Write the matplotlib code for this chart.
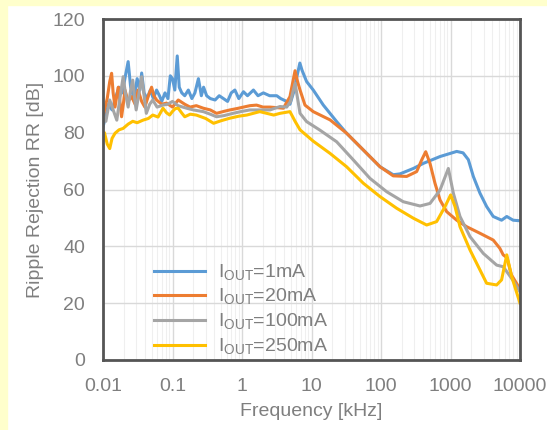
import numpy as np
import matplotlib.pyplot as plt
from matplotlib.patches import Rectangle
from matplotlib.ticker import NullFormatter, LogLocator

plt.rcParams['font.family'] = ['Liberation Sans', 'DejaVu Sans']
plt.rcParams['mathtext.fontset'] = 'custom'
plt.rcParams['mathtext.rm'] = 'Liberation Sans'

# ripple rejection vs frequency
f_1mA = [0.01, 0.011, 0.012, 0.0135, 0.015, 0.017, 0.019, 0.021, 0.023, 0.025,
         0.028, 0.031, 0.034, 0.036, 0.039, 0.043, 0.048, 0.053, 0.059, 0.065,
         0.07, 0.078, 0.086, 0.093, 0.1, 0.108, 0.117, 0.125, 0.136, 0.15,
         0.169, 0.19, 0.21, 0.236, 0.26, 0.28, 0.31, 0.35, 0.41, 0.47,
         0.54, 0.62, 0.7, 0.79, 0.9, 1.05, 1.2, 1.46, 1.7, 2.03,
         2.5, 3.16, 3.6, 4.4, 4.9, 5.5, 6.2, 6.8, 7.3, 8.5,
         10.6, 14.8, 23, 32, 55.7, 96.8, 150, 188, 292, 407,
         707, 1228, 1516, 1806, 2130, 2654, 3311, 4123, 5433, 6453,
         7950, 10000]
rr_1mA = [82, 86, 90, 88, 92, 96, 94, 100, 105, 96,
          92, 99, 95, 101, 94, 92, 95, 92, 95, 93,
          91, 94, 92, 100, 99, 95, 107, 96, 94, 93,
          95, 92, 94, 99, 93, 96, 93, 92, 91.5, 93,
          92, 91, 94, 95, 92, 94.4, 93, 95, 93, 94,
          93, 93, 92, 91, 90, 94, 100, 104.5, 102, 98,
          95, 89.7, 83.9, 79.8, 73.9, 68, 65.2, 65.5, 67.4, 69.2,
          71.6, 73.4, 72.9, 70.5, 64.6, 58.7, 54, 50.5, 49.2, 50.5,
          49.2, 49]

f_20mA = [0.01, 0.0105, 0.0115, 0.0125, 0.0133, 0.014, 0.0149, 0.0158, 0.0166, 0.0175,
          0.0185, 0.0196, 0.0207, 0.023, 0.0258, 0.029, 0.032, 0.036, 0.04, 0.045,
          0.05, 0.054, 0.059, 0.07, 0.082, 0.1, 0.121, 0.15, 0.179, 0.22,
          0.278, 0.35, 0.43, 0.55, 0.67, 0.85, 1.05, 1.3, 1.62, 2.0,
          2.53, 3.2, 3.94, 4.9, 5.4, 5.8, 6.3, 6.84, 8.06, 10.6,
          18.5, 32, 55.7, 96.8, 150, 234, 326, 385, 440, 507,
          598, 707, 881, 1228, 1710, 2654, 4123, 5130, 5730, 6500,
          7500, 10000]
rr_20mA = [85, 88, 92, 98, 100.9, 94, 89, 93, 96, 91,
           85.6, 90, 95, 91, 92.7, 90, 95, 91, 89, 93,
           96, 93, 91.5, 90, 90.4, 89, 91.5, 90, 89, 89.5,
           88.6, 88, 86.8, 87.5, 88, 88.5, 89, 89.5, 89.7, 89,
           89, 88.8, 88.6, 92.7, 98, 101.8, 98, 95, 89.7, 87.4,
           84.5, 79.8, 73.9, 68, 64.8, 64.6, 66.3, 70.4, 73.3, 69.2,
           62.2, 56.3, 52.2, 49.2, 46.9, 44.6, 42.2, 39.3, 37, 36,
           30, 25]

f_100mA = [0.01, 0.011, 0.0125, 0.014, 0.0158, 0.0175, 0.0195, 0.021, 0.023, 0.025,
           0.0268, 0.0285, 0.03, 0.033, 0.036, 0.039, 0.042, 0.047, 0.052, 0.06,
           0.073, 0.085, 0.1, 0.12, 0.16, 0.2, 0.278, 0.35, 0.43, 0.55,
           0.74, 1.0, 1.3, 1.8, 2.53, 3.52, 4.4, 5.0, 5.8, 6.84,
           8.5, 13.2, 23, 40, 69.5, 121, 209, 364, 507, 707,
           931, 1099, 1370, 1910, 2965, 4610, 5750, 7950, 10000]
rr_100mA = [86, 84, 91.5, 88, 84.4, 92, 99.7, 94, 89, 95,
            98.5, 92, 88, 94, 99.7, 93, 86.8, 90, 91.5, 89,
            89.7, 90, 91, 89.5, 88.6, 88, 87.4, 86.5, 85.6, 86,
            86.8, 87.5, 88, 88, 88, 89.2, 89, 91, 97.4, 86.8,
            83.9, 80.9, 76.8, 70.4, 63.9, 59.2, 55.7, 54.2, 55.1, 59.8,
            67.4, 58.7, 50.5, 43.4, 37.5, 33.4, 32.8, 28, 24]

f_250mA = [0.01, 0.0105, 0.0115, 0.0125, 0.0135, 0.0149, 0.017, 0.0195, 0.023, 0.0268,
           0.031, 0.0376, 0.045, 0.052, 0.062, 0.073, 0.082, 0.091, 0.1, 0.11,
           0.121, 0.135, 0.15, 0.18, 0.22, 0.3, 0.39, 0.5, 0.67, 0.9,
           1.17, 1.8, 2.86, 3.52, 4.9, 5.8, 6.84, 10.6, 18.5, 32,
           55.7, 96.8, 168, 292, 454, 632, 834, 1005, 1161, 1370,
           1910, 2654, 3311, 4610, 5433, 6453, 7600, 10000]
rr_250mA = [77.4, 80, 76, 74.4, 78, 79.8, 81, 81.5, 83, 84,
            83.5, 84.4, 85, 86.2, 85.5, 88.6, 87, 86.2, 87.5, 88.5,
            88.6, 87, 85.6, 86.5, 86.2, 85, 83.3, 84.2, 85.1, 85.8,
            86.2, 87.4, 86.2, 86.8, 87.4, 84, 81, 77, 72.7, 68,
            62.2, 57.5, 53.4, 49.9, 47.5, 48.7, 54, 58.1, 54, 46.9,
            38.7, 31.7, 27, 26.4, 28.2, 37, 29.3, 20]

labels = [r'I$_{\mathrm{OUT}}$=1mA', r'I$_{\mathrm{OUT}}$=20mA',
          r'I$_{\mathrm{OUT}}$=100mA', r'I$_{\mathrm{OUT}}$=250mA']
colors = ['#5B9BD5', '#ED7D31', '#A5A5A5', '#FFC000']

xticks = [0.01, 0.1, 1, 10, 100, 1000, 10000]
xtick_labels = ['0.01', '0.1', '1', '10', '100', '1000', '10000']
yticks = [0, 20, 40, 60, 80, 100, 120]

txt = '#7f7f7f'

fig = plt.figure(figsize=(5.47, 4.30), dpi=100)
# pale yellow strips at the top and left edge of the picture
fig.patches.append(Rectangle((0, 0), 7 / 547, 1, transform=fig.transFigure,
                             color='#FFFFCC', zorder=0))
fig.patches.append(Rectangle((0, 1 - 5 / 430), 1, 5 / 430, transform=fig.transFigure,
                             color='#FFFFCC', zorder=0))

ax = fig.add_axes([103 / 547, 70 / 430, 417 / 547, 341 / 430])

series = [(f_1mA, rr_1mA), (f_20mA, rr_20mA), (f_100mA, rr_100mA), (f_250mA, rr_250mA)]
for (f, rr), lab, c in zip(series, labels, colors):
    ax.plot(f, rr, color=c, lw=2.2, label=lab, solid_joinstyle='round')

ax.set_xscale('log')
ax.set_xlim(0.01, 10000)
ax.set_ylim(0, 120)
ax.set_xticks(xticks)
ax.set_xticklabels(xtick_labels)
ax.xaxis.set_minor_locator(LogLocator(base=10, subs=np.arange(2, 10), numticks=20))
ax.xaxis.set_minor_formatter(NullFormatter())
ax.set_yticks(yticks)

ax.grid(which='major', color='#d9d9d9', lw=1.0)
ax.grid(which='minor', axis='x', color='#efefef', lw=0.8)
ax.set_axisbelow(True)

ax.tick_params(which='both', length=0)
ax.tick_params(axis='y', pad=13, labelsize=14, labelcolor=txt)
ax.tick_params(axis='x', pad=13, labelsize=14, labelcolor=txt)

for s in ax.spines.values():
    s.set_color('#555555')
    s.set_linewidth(2)

ax.set_xlabel('Frequency [kHz]', fontsize=14, color=txt, labelpad=6)
ax.set_ylabel('Ripple Rejection RR [dB]', fontsize=14, color=txt, labelpad=6)

ax.legend(loc='lower left', bbox_to_anchor=(0.09, -0.03), frameon=False,
          fontsize=14, handlelength=2.6, handletextpad=0.7, labelspacing=0.22,
          borderaxespad=0.3, labelcolor=txt)

fig.savefig('out.png', dpi=100)
